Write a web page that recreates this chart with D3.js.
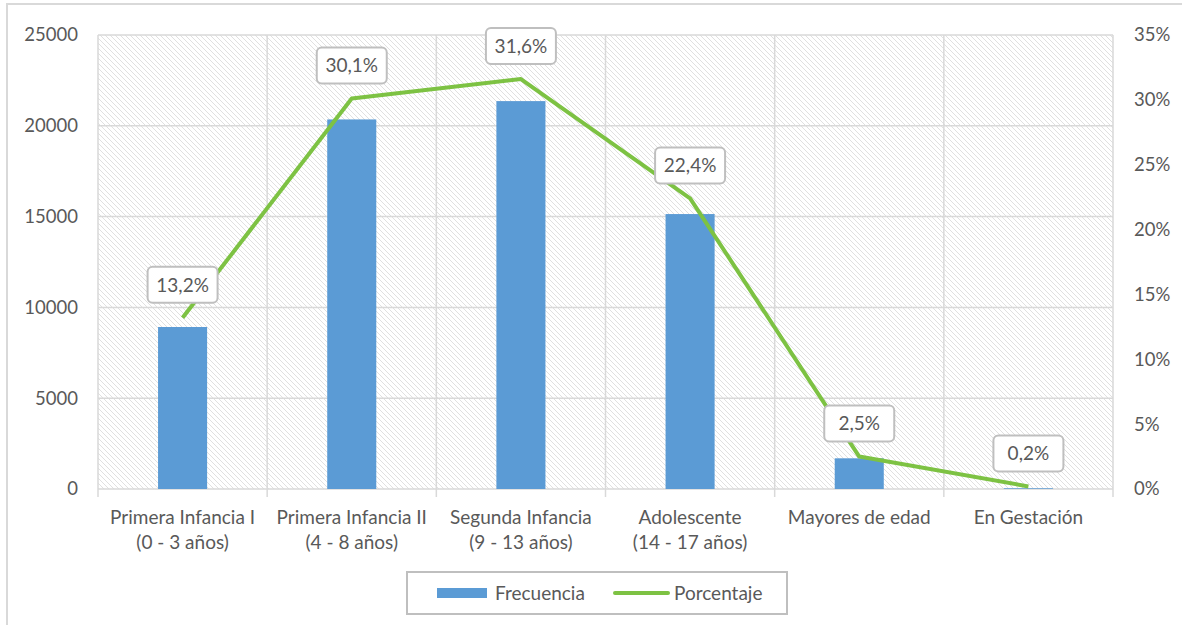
<!DOCTYPE html>
<html lang="es">
<head>
	<meta charset="utf-8">
	<title>Frecuencia y porcentaje por grupo de edad</title>
	<script src="https://d3js.org/d3.v7.min.js"></script>
	<style>
		body {margin:0; background:#fff;}
		text {font-family: Lato, "Open Sans", sans-serif; fill:#595959;}
	</style>
</head>
<body>
	<div id="chart"></div>
	<script>
		// data
		const categories = ["Primera Infancia I", "Primera Infancia II", "Segunda Infancia", "Adolescente", "Mayores de edad", "En Gestación"];
		const catLine1 = ["Primera Infancia I", "Primera Infancia II", "Segunda Infancia", "Adolescente", "Mayores de edad", "En Gestación"];
		const catLine2 = ["(0 - 3 años)", "(4 - 8 años)", "(9 - 13 años)", "(14 - 17 años)", "", ""];
		const frecuencia = [8920, 20350, 21360, 15140, 1690, 40];
		const porcentaje = [13.2, 30.1, 31.6, 22.4, 2.5, 0.2];
		const leftTicks = [0, 5000, 10000, 15000, 20000, 25000];
		const rightTicks = [0, 5, 10, 15, 20, 25, 30, 35];

		const width = 1182, height = 625;
		const plot = {left: 98, right: 1113, top: 35, bottom: 489};
		const gridColor = "#D9D9D9";
		const barColor = "#5B9BD5";
		const lineColor = "#7DC243";

		var svg = d3.select("#chart").append("svg")
			.attr("width", width)
			.attr("height", height);

		// hatch pattern for the plot background
		var defs = svg.append("defs");
		var pat = defs.append("pattern")
			.attr("id", "hatch")
			.attr("patternUnits", "userSpaceOnUse")
			.attr("width", 5).attr("height", 5);
		pat.append("path")
			.attr("d", "M-1,-1 L6,6 M-1,4 L1,6 M4,-1 L6,1")
			.attr("stroke", "#E0E0E0")
			.attr("stroke-width", 1);

		// outer chart border (only left and top visible)
		svg.append("path")
			.attr("d", "M7," + height + " L7,4 L" + width + ",4")
			.attr("fill", "none")
			.attr("stroke", gridColor)
			.attr("stroke-width", 2);

		var x = d3.scaleBand().domain(categories).range([plot.left, plot.right]);
		var y = d3.scaleLinear().domain([0, 25000]).range([plot.bottom, plot.top]);
		var yPct = d3.scaleLinear().domain([0, 35]).range([plot.bottom, plot.top]);
		const barW = x.bandwidth() * 0.29;

		svg.append("rect")
			.attr("x", plot.left).attr("y", plot.top)
			.attr("width", plot.right - plot.left)
			.attr("height", plot.bottom - plot.top)
			.attr("fill", "url(#hatch)");

		// horizontal gridlines
		svg.append("g").selectAll("line")
			.data(leftTicks)
			.enter().append("line")
			.attr("x1", plot.left).attr("x2", plot.right)
			.attr("y1", function (d) { return y(d); })
			.attr("y2", function (d) { return y(d); })
			.attr("stroke", gridColor)
			.attr("stroke-width", 1.5);

		// vertical gridlines at category boundaries, with ticks below the axis
		var bounds = categories.map(function (c) { return x(c); }).concat([plot.right]);
		svg.append("g").selectAll("line")
			.data(bounds)
			.enter().append("line")
			.attr("x1", function (d) { return d; })
			.attr("x2", function (d) { return d; })
			.attr("y1", plot.top)
			.attr("y2", plot.bottom + 8)
			.attr("stroke", gridColor)
			.attr("stroke-width", 1.5);

		// left axis
		var leftAxis = svg.append("g")
			.attr("transform", "translate(" + (plot.left - 17) + ",0)")
			.call(d3.axisLeft(y).tickValues(leftTicks).tickSize(0).tickFormat(d3.format("d")));
		leftAxis.select(".domain").remove();

		// right axis
		var rightAxis = svg.append("g")
			.attr("transform", "translate(" + (plot.right + 18) + ",0)")
			.call(d3.axisRight(yPct).tickValues(rightTicks).tickSize(0).tickFormat(function (d) { return d + "%"; }));
		rightAxis.select(".domain").remove();

		svg.selectAll(".tick text")
			.style("font-family", "Lato, 'Open Sans', sans-serif")
			.style("font-size", "18.5px")
			.attr("fill", "#595959");

		// bars
		svg.append("g").selectAll("rect")
			.data(frecuencia)
			.enter().append("rect")
			.attr("x", function (d, i) { return x(categories[i]) + x.bandwidth() / 2 - barW / 2; })
			.attr("y", function (d) { return y(d); })
			.attr("width", barW)
			.attr("height", function (d) { return plot.bottom - y(d); })
			.attr("fill", barColor);

		// category labels
		var xl = svg.append("g");
		xl.selectAll("text.l1")
			.data(catLine1)
			.enter().append("text")
			.attr("class", "l1")
			.attr("x", function (d, i) { return x(categories[i]) + x.bandwidth() / 2; })
			.attr("y", 524)
			.attr("text-anchor", "middle")
			.style("font-size", "19px")
			.text(function (d) { return d; });
		xl.selectAll("text.l2")
			.data(catLine2)
			.enter().append("text")
			.attr("class", "l2")
			.attr("x", function (d, i) { return x(categories[i]) + x.bandwidth() / 2; })
			.attr("y", 549)
			.attr("text-anchor", "middle")
			.style("font-size", "19px")
			.text(function (d) { return d; });

		// percentage line
		var line = d3.line()
			.x(function (d, i) { return x(categories[i]) + x.bandwidth() / 2; })
			.y(function (d) { return yPct(d); });
		svg.append("path")
			.datum(porcentaje)
			.attr("d", line)
			.attr("fill", "none")
			.attr("stroke", lineColor)
			.attr("stroke-width", 4)
			.attr("stroke-linejoin", "round");

		// data labels
		var lab = svg.append("g").selectAll("g")
			.data(porcentaje)
			.enter().append("g")
			.attr("transform", function (d, i) {
				return "translate(" + (x(categories[i]) + x.bandwidth() / 2) + "," + (yPct(d) - 33) + ")";
			});
		lab.append("rect")
			.attr("x", -35).attr("y", -18)
			.attr("width", 70).attr("height", 36)
			.attr("rx", 5)
			.attr("fill", "#fff")
			.attr("stroke", "#BFBFBF")
			.attr("stroke-width", 2);
		lab.append("text")
			.attr("text-anchor", "middle")
			.attr("dy", "0.36em")
			.style("font-size", "19px")
			.text(function (d) { return d3.format(".1f")(d).replace(".", ",") + "%"; });

		// legend
		var leg = svg.append("g");
		leg.append("rect")
			.attr("x", 407).attr("y", 572)
			.attr("width", 380).attr("height", 42)
			.attr("fill", "#fff")
			.attr("stroke", "#BFBFBF")
			.attr("stroke-width", 2);
		leg.append("rect")
			.attr("x", 437).attr("y", 588)
			.attr("width", 50).attr("height", 10)
			.attr("fill", barColor);
		leg.append("text")
			.attr("x", 495).attr("y", 593)
			.attr("dy", "0.36em")
			.style("font-size", "19px")
			.text("Frecuencia");
		leg.append("line")
			.attr("x1", 615).attr("x2", 668)
			.attr("y1", 593).attr("y2", 593)
			.attr("stroke", lineColor)
			.attr("stroke-width", 4)
			.attr("stroke-linecap", "round");
		leg.append("text")
			.attr("x", 674).attr("y", 593)
			.attr("dy", "0.36em")
			.style("font-size", "19px")
			.text("Porcentaje");
	</script>
</body>
</html>
